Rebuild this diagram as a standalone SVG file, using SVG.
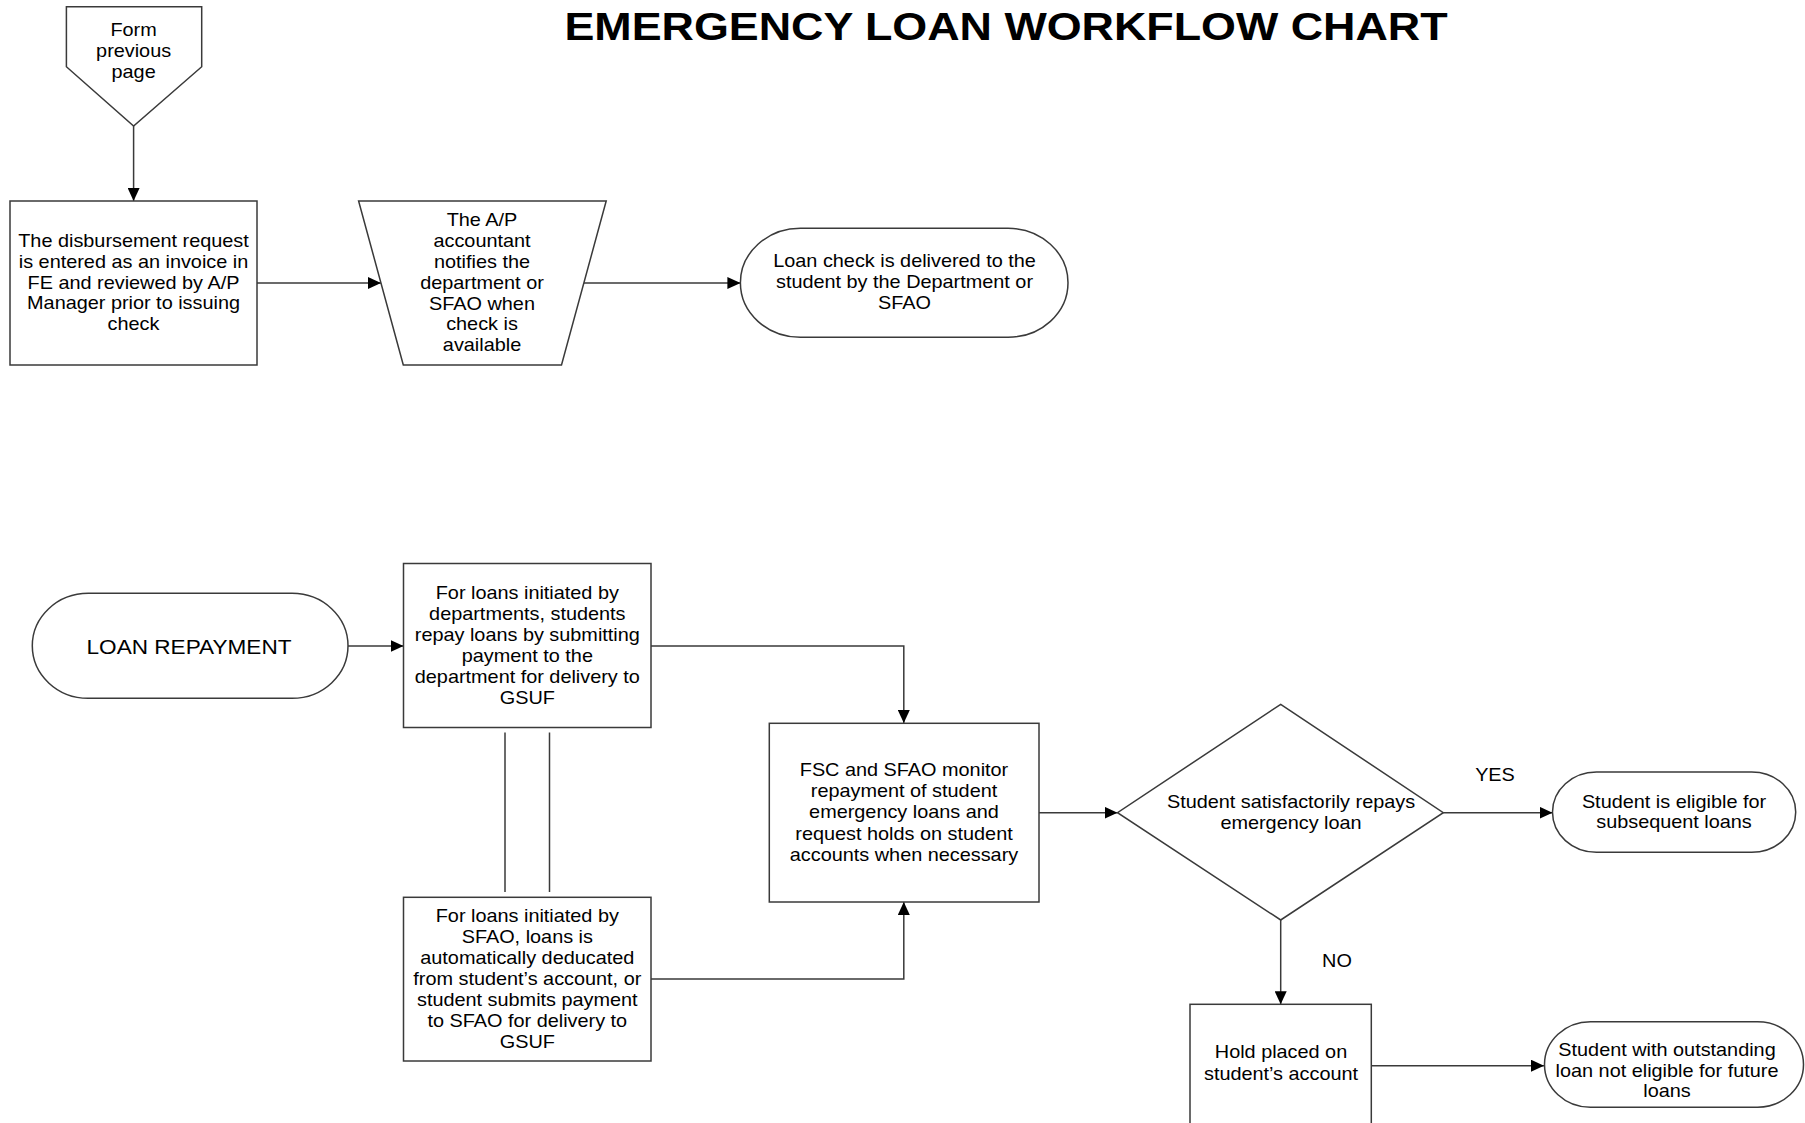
<svg xmlns="http://www.w3.org/2000/svg" width="1805" height="1123" viewBox="0 0 1805 1123">
<defs>
<marker id="ah" markerUnits="userSpaceOnUse" markerWidth="13" markerHeight="12" refX="13" refY="6" orient="auto">
<path d="M0,0 L13,6 L0,12 Z" fill="#000"/>
</marker>
<style>
.s{fill:#fff;stroke:#3a3a3a;stroke-width:1.5}
.c{fill:none;stroke:#3a3a3a;stroke-width:1.5}
.a{marker-end:url(#ah)}
text{font-family:"Liberation Sans",Arial,sans-serif;fill:#000}
.t{font-size:17.5px;text-anchor:middle}
.big{font-size:20px;text-anchor:middle}
.title{font-size:38px;font-weight:bold;text-anchor:middle}
</style>
</defs>
<rect width="1805" height="1123" fill="#fff"/>

<g id="title">
<text class="title" transform="translate(1006 39.5) scale(1.18 1)" x="0" y="0">EMERGENCY LOAN WORKFLOW CHART</text>
</g>

<g id="connectors">
<path class="c a" d="M133.6,126 L133.6,201"/>
<path class="c a" d="M257,283 L381,283"/>
<path class="c a" d="M583.8,283 L740.4,283"/>
<path class="c a" d="M348,646 L403.5,646"/>
<path class="c a" d="M651,646 L903.8,646 L903.8,723"/>
<path class="c a" d="M651,979 L903.8,979 L903.8,902"/>
<path class="c" d="M505,732.5 L505,892"/>
<path class="c" d="M549.5,732.5 L549.5,892"/>
<path class="c a" d="M1039,812.7 L1117.5,812.7"/>
<path class="c a" d="M1443.3,812.7 L1552.5,812.7"/>
<path class="c a" d="M1280.7,920 L1280.7,1004.3"/>
<path class="c a" d="M1371.3,1065.7 L1544,1065.7"/>
<text class="t" transform="translate(1495 781) scale(1.135 1)" x="0" y="0">YES</text>
<text class="t" transform="translate(1337 967) scale(1.135 1)" x="0" y="0">NO</text>
</g>

<g id="offpage">
<path class="s" d="M66.4,6.7 L201.7,6.7 L201.7,66.7 L133.6,126 L66.4,66.7 Z"/>
<text class="t" transform="translate(133.6 0) scale(1.135 1)"><tspan x="0" y="36">Form</tspan><tspan x="0" y="57">previous</tspan><tspan x="0" y="78">page</tspan></text>
</g>

<g id="disbursement">
<rect class="s" x="10" y="201" width="247" height="164"/>
<text class="t" transform="translate(133.5 0) scale(1.135 1)"><tspan x="0" y="247">The disbursement request</tspan><tspan x="0" y="267.8">is entered as an invoice in</tspan><tspan x="0" y="288.6">FE and reviewed by A/P</tspan><tspan x="0" y="309.4">Manager prior to issuing</tspan><tspan x="0" y="330.2">check</tspan></text>
</g>

<g id="notify">
<path class="s" d="M358.6,201 L606.2,201 L561.5,365 L403.3,365 Z"/>
<text class="t" transform="translate(482 0) scale(1.135 1)"><tspan x="0" y="226">The A/P</tspan><tspan x="0" y="246.9">accountant</tspan><tspan x="0" y="267.8">notifies the</tspan><tspan x="0" y="288.7">department or</tspan><tspan x="0" y="309.6">SFAO when</tspan><tspan x="0" y="330.5">check is</tspan><tspan x="0" y="351.4">available</tspan></text>
</g>

<g id="delivered">
<rect class="s" x="740.4" y="228.3" width="327.6" height="109" rx="60" ry="54.5"/>
<text class="t" transform="translate(904.5 0) scale(1.135 1)"><tspan x="0" y="267.5">Loan check is delivered to the</tspan><tspan x="0" y="288.5">student by the Department or</tspan><tspan x="0" y="309.5">SFAO</tspan></text>
</g>

<g id="repayment">
<rect class="s" x="32.3" y="593.3" width="315.7" height="105" rx="56" ry="52.5"/>
<text class="big" transform="translate(189 653.5) scale(1.13 1)" x="0" y="0">LOAN REPAYMENT</text>
</g>

<g id="dept">
<rect class="s" x="403.5" y="563.5" width="247.5" height="164"/>
<text class="t" transform="translate(527.3 0) scale(1.135 1)"><tspan x="0" y="599">For loans initiated by</tspan><tspan x="0" y="620">departments, students</tspan><tspan x="0" y="641">repay loans by submitting</tspan><tspan x="0" y="662">payment to the</tspan><tspan x="0" y="683">department for delivery to</tspan><tspan x="0" y="704">GSUF</tspan></text>
</g>

<g id="sfao">
<rect class="s" x="403.5" y="897.3" width="247.5" height="163.7"/>
<text class="t" transform="translate(527.3 0) scale(1.135 1)"><tspan x="0" y="922">For loans initiated by</tspan><tspan x="0" y="943">SFAO, loans is</tspan><tspan x="0" y="964">automatically deducated</tspan><tspan x="0" y="985">from student’s account, or</tspan><tspan x="0" y="1006">student submits payment</tspan><tspan x="0" y="1027">to SFAO for delivery to</tspan><tspan x="0" y="1048">GSUF</tspan></text>
</g>

<g id="monitor">
<rect class="s" x="769.3" y="723.3" width="269.7" height="178.7"/>
<text class="t" transform="translate(904 0) scale(1.135 1)"><tspan x="0" y="776">FSC and SFAO monitor</tspan><tspan x="0" y="797.2">repayment of student</tspan><tspan x="0" y="818.4">emergency loans and</tspan><tspan x="0" y="839.6">request holds on student</tspan><tspan x="0" y="860.8">accounts when necessary</tspan></text>
</g>

<g id="decision">
<path class="s" d="M1280.7,704.3 L1443.3,812.7 L1280.7,920 L1117.5,812.7 Z"/>
<text class="t" transform="translate(1291 0) scale(1.135 1)"><tspan x="0" y="808.4">Student satisfactorily repays</tspan><tspan x="0" y="828.6">emergency loan</tspan></text>
</g>

<g id="eligible">
<rect class="s" x="1552.5" y="772" width="243.2" height="80.3" rx="44" ry="40"/>
<text class="t" transform="translate(1674 0) scale(1.135 1)"><tspan x="0" y="808.3">Student is eligible for</tspan><tspan x="0" y="828.3">subsequent loans</tspan></text>
</g>

<g id="hold">
<rect class="s" x="1190" y="1004.3" width="181.3" height="125"/>
<text class="t" transform="translate(1281 0) scale(1.135 1)"><tspan x="0" y="1058.5">Hold placed on</tspan><tspan x="0" y="1080.5">student’s account</tspan></text>
</g>

<g id="noteligible">
<rect class="s" x="1544.5" y="1021.7" width="259" height="85.6" rx="46" ry="42.8"/>
<text class="t" transform="translate(1667 0) scale(1.135 1)"><tspan x="0" y="1056.5">Student with outstanding</tspan><tspan x="0" y="1077">loan not eligible for future</tspan><tspan x="0" y="1097.5">loans</tspan></text>
</g>
</svg>
